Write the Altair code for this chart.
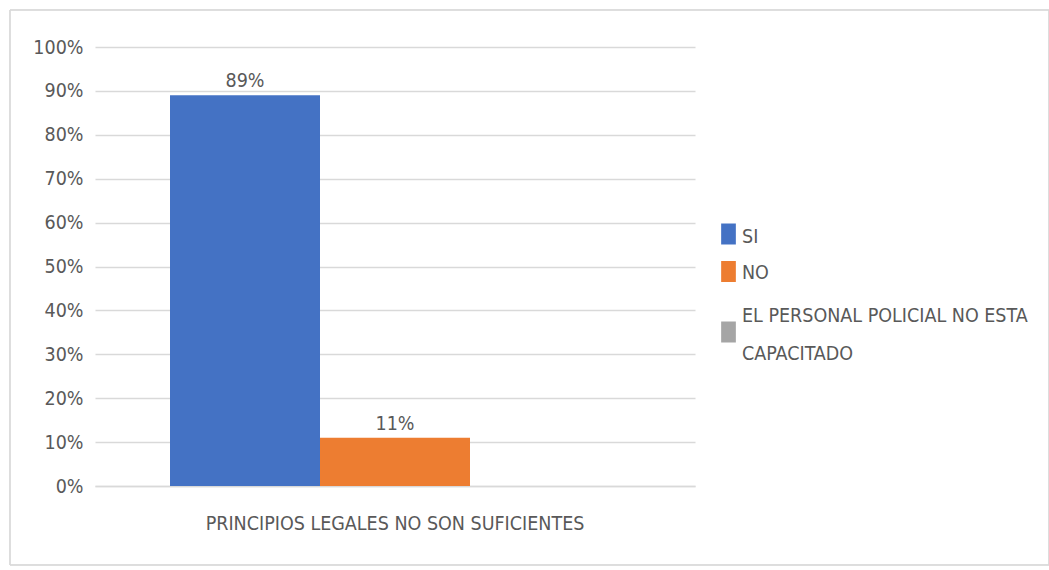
import altair as alt
import pandas as pd

categories = ["PRINCIPIOS LEGALES NO SON SUFICIENTES"]
series = ["SI", "NO", "EL PERSONAL POLICIAL NO ESTA CAPACITADO"]
values = [0.89, 0.11, 0.0]
labels = ["89%", "11%", ""]
legend_text = ["SI", "NO", "EL PERSONAL POLICIAL NO ESTA\nCAPACITADO"]
colors = ["#4472C4", "#ED7D31", "#A5A5A5"]

df = pd.DataFrame({
    "cat": categories * len(series),
    "serie": series,
    "valor": values,
    "etiqueta": labels,
})
leg = pd.DataFrame({"serie": series, "texto": legend_text})

FONT = "'DejaVu Sans Condensed', 'Liberation Sans Narrow', sans-serif"
TXT = "#595959"
FS = 19.5

x_enc = alt.X("cat:N", title=None,
              scale=alt.Scale(paddingOuter=1/6, paddingInner=0),
              axis=alt.Axis(labelAngle=0, labelFontSize=FS, labelColor=TXT, labelFont=FONT,
                            labelPadding=28, ticks=False, domain=True, domainColor="#D9D9D9",
                            domainWidth=1.5, labelLimit=600, grid=False))
xo_enc = alt.XOffset("serie:N", sort=series, scale=alt.Scale(paddingInner=0, paddingOuter=0))
yscale = alt.Scale(domain=[0, 1], nice=False)
color_enc = alt.Color("serie:N", sort=series,
                      scale=alt.Scale(domain=series, range=colors), legend=None)

bars = alt.Chart(df).mark_bar().encode(
    x=x_enc,
    xOffset=xo_enc,
    y=alt.Y("valor:Q", title=None, scale=yscale,
            axis=alt.Axis(format="%", values=[i / 10 for i in range(11)], labelFontSize=FS,
                          labelColor=TXT, labelFont=FONT, ticks=False, domain=False,
                          gridColor="#D9D9D9", gridWidth=1.5, labelPadding=12)),
    color=color_enc,
)

text = alt.Chart(df).mark_text(dy=-14, fontSize=FS, font=FONT, color=TXT).encode(
    x=alt.X("cat:N"),
    xOffset=alt.XOffset("serie:N", sort=series),
    y=alt.Y("valor:Q", scale=yscale),
    text="etiqueta:N",
)

# legend drawn by hand (layout positions only; entries come from the series list)
sym_y = [187, 224.5, 285]
txt_y = [190, 226, 269]
legend_layers = []
for s, sy, ty in zip(series, sym_y, txt_y):
    base = alt.Chart(leg).transform_filter(alt.datum.serie == s)
    legend_layers.append(
        base.mark_point(shape="M-0.7,-1H0.7V1H-0.7Z", filled=True, size=441, opacity=1,
                        strokeWidth=0).encode(x=alt.value(633.5), y=alt.value(sy), color=color_enc)
    )
    legend_layers.append(
        base.mark_text(align="left", baseline="middle", fontSize=FS, font=FONT, color=TXT,
                       lineBreak="\n", lineHeight=38).encode(
            x=alt.value(647), y=alt.value(ty), text="texto:N")
    )

frame = alt.Chart(df).mark_rect(fill="transparent", stroke="#D9D9D9", strokeWidth=1).encode(
    x=alt.value(-85), x2=alt.value(954), y=alt.value(-37), y2=alt.value(518)
)

chart = alt.layer(frame, bars, text, *legend_layers).properties(
    width=600, height=439,
    autosize=alt.AutoSizeParams(type="none"),
    padding={"left": 95, "top": 47, "right": 354, "bottom": 84},
).configure(background="white").configure_view(strokeWidth=0, stroke="transparent")

chart.save("out.html", embed_options={"renderer": "svg", "actions": False})
